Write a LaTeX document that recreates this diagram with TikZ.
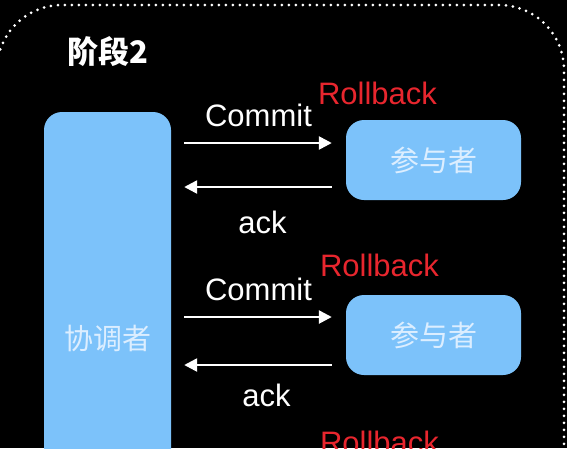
\documentclass[tikz,border=0pt]{standalone}
\usepackage{fontspec}
\setmainfont{Liberation Sans}
\newfontfamily\cjk{Noto Sans CJK SC}
\usetikzlibrary{arrows.meta,positioning}

\definecolor{boxblue}{HTML}{7CC2FA}
\definecolor{labelwhite}{HTML}{DCEEFF}
\definecolor{rbred}{HTML}{E8262E}

\begin{document}
\begin{tikzpicture}[
  x=1pt, y=-1pt,
  font=\fontsize{31}{36}\selectfont,
  role/.style={rectangle, rounded corners=18pt, fill=boxblue, text=labelwhite,
               font=\fontsize{29}{34}\selectfont\cjk},
  msg/.style={-{Triangle[length=13pt,width=13pt]}, draw=white, line width=2.5pt},
  msglabel/.style={text=white, inner sep=0pt},
  rb/.style={text=rbred, inner sep=0pt, anchor=base west}
]
\fill[black] (0,0) rectangle (567,448);
\useasboundingbox (0,0) rectangle (567,448);

% dotted frame of the phase
\draw[white, line width=3pt, line cap=round, dash pattern=on 0pt off 7pt,
      rounded corners=65pt] (-3,560) -- (-3,5) -- (564,5) -- (564,560);
\node[font=\fontsize{31}{36}\selectfont\cjk\bfseries, text=white] (stage) at (108,52) {阶段2};

\node[role, minimum width=127pt, minimum height=452pt] (coord) at (107.5,338) {协调者};
\node[role, minimum width=175pt, minimum height=80pt] (partA) at (433.5,160) {参与者};
\node[role, minimum width=175pt, minimum height=80pt] (partB) at (433.5,335) {参与者};

\node[rb] (rbA) at ([shift={(-28pt,15pt)}]partA.north west) {Rollback};
\node[rb] (rbB) at ([shift={(-26pt,18pt)}]partB.north west) {Rollback};
\node[rb] (rbC) at ([shift={(-26pt,-78pt)}]partB.south west) {Rollback};

\coordinate (inA) at ([yshift=17pt]partA.west);
\coordinate (outA) at ([yshift=-27pt]partA.west);
\coordinate (inB) at ([yshift=18pt]partB.west);
\coordinate (outB) at ([yshift=-30pt]partB.west);

\draw[msg, shorten <=13pt, shorten >=14pt] (coord.east |- inA) -- node[msglabel, above=15pt] {Commit} (inA);
\draw[msg, shorten <=14pt, shorten >=13pt] (outA) -- node[msglabel, below=23pt, xshift=4pt] {ack} (coord.east |- outA);
\draw[msg, shorten <=13pt, shorten >=14pt] (coord.east |- inB) -- node[msglabel, above=15pt] {Commit} (inB);
\draw[msg, shorten <=14pt, shorten >=13pt] (outB) -- node[msglabel, below=18pt, xshift=8pt] {ack} (coord.east |- outB);

\end{tikzpicture}
\end{document}
